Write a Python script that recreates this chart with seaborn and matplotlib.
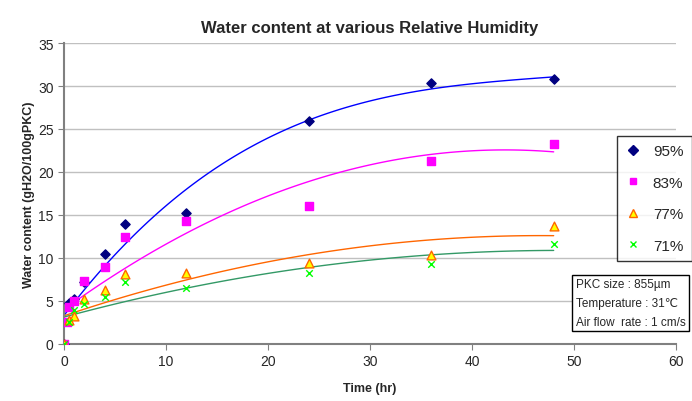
import matplotlib
matplotlib.use("Agg")
import matplotlib.pyplot as plt
import seaborn as sns
import numpy as np
import pandas as pd
from matplotlib.lines import Line2D

sns.set_style("white")
plt.rcParams['font.family'] = ['Liberation Sans', 'DejaVu Sans']

time_95 = [0, 0.5, 1, 2, 4, 6, 12, 24, 36, 48]
wc_95 = [0, 4.8, 5.2, 7.2, 10.5, 14.0, 15.2, 25.9, 30.4, 30.8]
time_83 = [0, 0.25, 0.5, 1, 2, 4, 6, 12, 24, 36, 48]
wc_83 = [0, 2.6, 4.3, 5.0, 7.3, 8.9, 12.4, 14.3, 16.1, 21.3, 23.3]
time_77 = [0, 0.5, 1, 2, 4, 6, 12, 24, 36, 48]
wc_77 = [0, 2.8, 3.2, 5.2, 6.3, 8.1, 8.2, 9.4, 10.4, 13.7]
time_71 = [0, 0.5, 1, 2, 4, 6, 12, 24, 36, 48]
wc_71 = [0, 2.6, 4.0, 4.7, 5.4, 7.2, 6.5, 8.2, 9.3, 11.6]

labels = ['95%', '83%', '77%', '71%']
title = 'Water content at various Relative Humidity'
xlabel = 'Time (hr)'
ylabel = 'Water content (gH2O/100gPKC)'
info = 'PKC size : 855\u00b5m\nTemperature : 31\u2103\nAir flow  rate : 1 cm/s'

series = [(time_95, wc_95), (time_83, wc_83), (time_77, wc_77), (time_71, wc_71)]
fit_orders = [3, 2, 2, 2]
styles = [
    dict(marker='D', s=22, color='#000080', edgecolor='#000080'),
    dict(marker='s', s=26, color='#FF00FF', edgecolor='#FF00FF'),
    dict(marker='^', s=40, color='#FFFF00', edgecolor='#FF6600'),
    dict(marker='x', s=22, color='#00FF00', edgecolor='#00FF00'),
]
line_colors = ['#0000FF', '#FF00FF', '#FF6600', '#339966']

fig = plt.figure(figsize=(6.92, 4.02), dpi=100)
ax = fig.add_axes([0.0925, 0.142, 0.8845, 0.7485])

handles = []
for (t, w), lab, st, lc, od in zip(series, labels, styles, line_colors, fit_orders):
    df = pd.DataFrame({'t': t, 'w': w})
    sns.regplot(data=df, x='t', y='w', order=od, ci=None, scatter=False, ax=ax,
                line_kws=dict(color=lc, lw=1.0))
    m = st['marker']
    if m == 'x':
        ax.scatter(t, w, marker='x', s=st['s'], color=st['color'], linewidths=1.0, zorder=4)
    else:
        ax.scatter(t, w, marker=m, s=st['s'], facecolor=st['color'], edgecolor=st['edgecolor'],
                   linewidths=1.0, zorder=4)
    handles.append(Line2D([], [], linestyle='none', marker=m,
                          markersize=6 if m == '^' else 5,
                          markerfacecolor=st['color'], markeredgecolor=st['edgecolor'],
                          color=st['color']))

ax.set_xlim(0, 60)
ax.set_ylim(0, 35)
ax.set_xticks(range(0, 61, 10))
ax.set_yticks(range(0, 36, 5))
ax.grid(axis='y', color='#C0C0C0', lw=1)
ax.set_axisbelow(True)
for s in ['top', 'right']:
    ax.spines[s].set_visible(False)
ax.spines['left'].set_color('#808080')
ax.spines['left'].set_linewidth(1.5)
ax.spines['bottom'].set_color('#808080')
ax.spines['bottom'].set_linewidth(1.5)
ax.tick_params(axis='both', which='both', direction='out', length=4, color='#808080',
               labelsize=10, bottom=True, left=True)
ax.set_title(title, fontsize=12, fontweight='bold', pad=8)
ax.set_xlabel(xlabel, fontsize=9, fontweight='bold', labelpad=10)
ax.set_ylabel(ylabel, fontsize=9, fontweight='bold', labelpad=2)

leg = fig.legend(handles, labels, loc='upper right', bbox_to_anchor=(0.9995, 0.66),
                 frameon=True, fancybox=False, edgecolor='black', fontsize=11,
                 labelspacing=1.15, handletextpad=0.8, borderpad=0.55, handlelength=1.0,
                 borderaxespad=0.0)
leg.get_frame().set_linewidth(1.0)

fig.text(0.832, 0.182, info, fontsize=8.5, ha='left', va='bottom', linespacing=1.75,
         bbox=dict(boxstyle='square,pad=0.3', facecolor='white', edgecolor='black', lw=1))

fig.savefig('out.png', dpi=100)
